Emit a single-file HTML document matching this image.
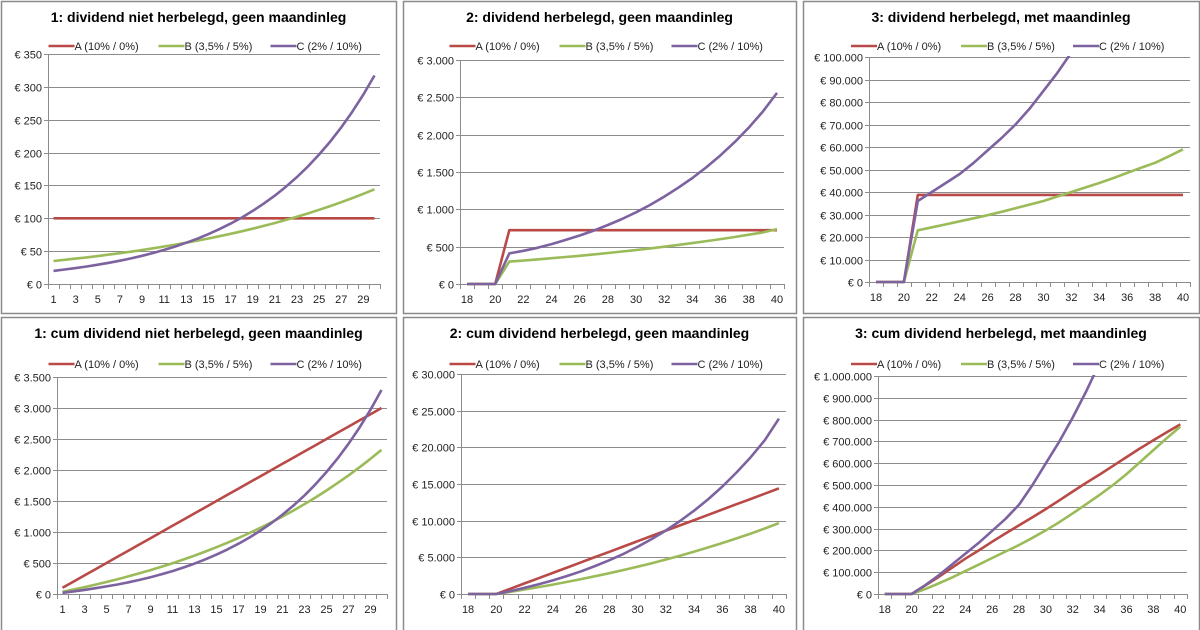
<!DOCTYPE html>
<html><head><meta charset="utf-8">
<style>
body{margin:0;width:1200px;height:630px;background:#fff;overflow:hidden;font-family:"Liberation Sans",sans-serif}
svg{position:absolute;left:0;top:0}
</style></head>
<body>
<svg id="s" width="1200" height="630"></svg>
<script>
const yearsP1 = [1,2,3,4,5,6,7,8,9,10,11,12,13,14,15,16,17,18,19,20,21,22,23,24,25,26,27,28,29,30];
const yearsP2 = [18,19,20,21,22,23,24,25,26,27,28,29,30,31,32,33,34,35,36,37,38,39,40];

const p1A = [100,100,100,100,100,100,100,100,100,100,100,100,100,100,100,100,100,100,100,100,100,100,100,100,100,100,100,100,100,100];
const p1B = [35,36.8,38.6,40.5,42.5,44.7,46.9,49.2,51.7,54.3,57,59.9,62.9,66,69.3,72.8,76.4,80.2,84.2,88.4,92.9,97.5,102.4,107.5,112.9,118.5,124.5,130.7,137.2,144.1];
const p1C = [20,22,24.2,26.6,29.3,32.2,35.4,39,42.9,47.2,51.9,57.1,62.8,69,75.9,83.5,91.9,101.1,111.2,122.3,134.5,148,162.8,179.1,197,216.7,238.4,262.2,288.4,317.3];

const p2A = [0,0,0,720,720,720,720,720,720,720,720,720,720,720,720,720,720,720,720,720,720,720,720];
const p2B = [0,0,0,300,314,329,345,361,378,396,415,435,455,477,500,523,548,574,601,630,660,691,735];
const p2C = [0,0,0,410,445,485,535,590,650,715,790,870,960,1060,1170,1290,1420,1565,1725,1900,2095,2310,2560];

const p3A = [0,0,0,38700,38700,38700,38700,38700,38700,38700,38700,38700,38700,38700,38700,38700,38700,38700,38700,38700,38700,38700,38700];
const p3B = [0,0,0,23000,24300,25600,27000,28300,29700,31200,32800,34400,36000,38000,40000,42000,44000,46200,48500,50800,53000,55900,59000];
const p3C = [0,0,0,36000,40000,44000,48000,53000,58500,64000,70000,77000,85000,93000,102000,112000,123000,135000,148000,163000,179000,197000,216000];

const p4A = [100,200,300,400,500,600,700,800,900,1000,1100,1200,1300,1400,1500,1600,1700,1800,1900,2000,2100,2200,2300,2400,2500,2600,2700,2800,2900,3000];
const p4B = [35,72,110,151,193,238,285,334,386,440,497,557,620,686,755,828,904,984,1068,1157,1250,1347,1450,1557,1670,1788,1913,2044,2181,2325];
const p4C = [20,42,66,93,122,154,189,228,271,318,370,427,490,559,635,719,811,912,1023,1145,1280,1428,1591,1770,1967,2184,2422,2684,2973,3290];

const p5A = [0,0,0,720,1440,2160,2880,3600,4320,5040,5760,6480,7200,7920,8640,9360,10080,10800,11520,12240,12960,13680,14400];
const p5B = [0,0,0,300,614,943,1288,1649,2027,2423,2838,3273,3728,4205,4705,5228,5776,6350,6951,7581,8241,8932,9662];
const p5C = [0,0,0,400,840,1325,1860,2450,3100,3815,4605,5475,6435,7495,8665,9955,11375,12940,14665,16565,18660,20970,23900];

const p6A = [0,0,0,38000,78000,120000,162000,200000,240000,278000,315000,352000,390000,430000,470000,510000,548000,588000,628000,668000,705000,742000,778000];
const p6B = [0,0,0,22000,48000,75000,105000,135000,165000,195000,225000,258000,292000,330000,370000,412000,455000,500000,550000,605000,660000,715000,768000];
const p6C = [0,0,0,40000,85000,135000,185000,235000,290000,345000,410000,500000,600000,700000,810000,930000,1060000,1200000,1360000,1530000,1720000,1930000,2160000];

const ticksP1 = ['€ 0','€ 50','€ 100','€ 150','€ 200','€ 250','€ 300','€ 350'];
const ticksP2 = ['€ 0','€ 500','€ 1.000','€ 1.500','€ 2.000','€ 2.500','€ 3.000'];
const ticksP3 = ['€ 0','€ 10.000','€ 20.000','€ 30.000','€ 40.000','€ 50.000','€ 60.000','€ 70.000','€ 80.000','€ 90.000','€ 100.000'];
const ticksP4 = ['€ 0','€ 500','€ 1.000','€ 1.500','€ 2.000','€ 2.500','€ 3.000','€ 3.500'];
const ticksP5 = ['€ 0','€ 5.000','€ 10.000','€ 15.000','€ 20.000','€ 25.000','€ 30.000'];
const ticksP6 = ['€ 0','€ 100.000','€ 200.000','€ 300.000','€ 400.000','€ 500.000','€ 600.000','€ 700.000','€ 800.000','€ 900.000','€ 1.000.000'];
const legendLabels = ['A (10% / 0%)','B (3,5% / 5%)','C (2% / 10%)'];
const colors = ['#b94a47','#9bbb59','#7d62a0'];

const NS='http://www.w3.org/2000/svg';
const svg=document.getElementById('s');
function mk(tag,attrs,parent,text){const e=document.createElementNS(NS,tag);for(const k in attrs)e.setAttribute(k,attrs[k]);if(text!==undefined)e.textContent=text;(parent||svg).appendChild(e);return e;}

const panels=[
 {id:'p1',box:[1,1,395,312],title:'1: dividend niet herbelegd, geen maandinleg',x0:48,x1:380,yt:54,yb:284,legY:46,cats:yearsP1,max:350,step:50,ticks:ticksP1,series:[p1A,p1B,p1C],labelEvery:'odd'},
 {id:'p2',box:[403,1,393,312],title:'2: dividend herbelegd, geen maandinleg',x0:460,x1:784,yt:60,yb:284,legY:46,cats:yearsP2,max:3000,step:500,ticks:ticksP2,series:[p2A,p2B,p2C],labelEvery:'even'},
 {id:'p3',box:[803,1,396,312],title:'3: dividend herbelegd, met maandinleg',x0:869,x1:1190,yt:57,yb:282,legY:46,cats:yearsP2,max:100000,step:10000,ticks:ticksP3,series:[p3A,p3B,p3C],labelEvery:'even'},
 {id:'p4',box:[1,317,395,320],title:'1: cum dividend niet herbelegd, geen maandinleg',x0:57,x1:387,yt:377,yb:594,legY:364,cats:yearsP1,max:3500,step:500,ticks:ticksP4,series:[p4A,p4B,p4C],labelEvery:'odd'},
 {id:'p5',box:[403,317,393,320],title:'2: cum dividend herbelegd, geen maandinleg',x0:461,x1:786,yt:374,yb:594,legY:364,cats:yearsP2,max:30000,step:5000,ticks:ticksP5,series:[p5A,p5B,p5C],labelEvery:'even'},
 {id:'p6',box:[803,317,396,320],title:'3: cum dividend herbelegd, met maandinleg',x0:878,x1:1187,yt:376,yb:594,legY:364,cats:yearsP2,max:1000000,step:100000,ticks:ticksP6,series:[p6A,p6B,p6C],labelEvery:'even'}
];

panels.forEach((p,pi)=>{
 const g=mk('g',{});
 
 
 const [bx,by,bw,bh]=p.box;
 const r=mk('rect',{x:bx+0.5,y:by+0.5,width:bw,height:bh,fill:'#fff',stroke:'#8a8a8a','stroke-width':1.5},g);
 
 
 const t=mk('text',{x:bx+bw/2,y:by+21,'text-anchor':'middle','font-size':14,'font-weight':'bold',fill:'#000'},g,p.title);
 
 
 const n=p.cats.length, cw=(p.x1-p.x0)/n;
 const xs=i=>p.x0+(i+0.5)*cw;
 const ys=v=>p.yb-(v/p.max)*(p.yb-p.yt);
 for(let k=0;k<p.ticks.length;k++){
  const v=k*p.step, y=Math.round(ys(v))+0.5;
  if(k>0){const gl=mk('line',{x1:p.x0,x2:p.x1,y1:y,y2:y,stroke:'#8c8c8c','stroke-width':1},g);
   
   }
  mk('line',{x1:p.x0-4,x2:p.x0,y1:y,y2:y,stroke:'#8c8c8c'},g);
  const tl=mk('text',{x:p.x0-6,y:y+4,'text-anchor':'end','font-size':11,fill:'#222'},g,p.ticks[k]);
  
  
 }
 mk('line',{x1:p.x0+0.5,x2:p.x0+0.5,y1:p.yt,y2:p.yb,stroke:'#8c8c8c'},g);
 mk('line',{x1:p.x0,x2:p.x1,y1:p.yb+0.5,y2:p.yb+0.5,stroke:'#8c8c8c'},g);
 for(let i=0;i<=n;i++){const x=Math.round(p.x0+i*cw)+0.5;mk('line',{x1:x,x2:x,y1:p.yb,y2:p.yb+5,stroke:'#8c8c8c'},g);}
 p.cats.forEach((c,i)=>{
  if((p.labelEvery==='odd'&&c%2===1)||(p.labelEvery==='even'&&c%2===0)){
   const xl=mk('text',{x:xs(i),y:p.yb+19,'text-anchor':'middle','font-size':11,fill:'#222'},g,String(c));
   
   
  }
 });
 const cid='clip'+pi;
 const cp=mk('clipPath',{id:cid},g);
 mk('rect',{x:p.x0,y:p.yt-1,width:p.x1-p.x0+5,height:p.yb-p.yt+3},cp);
 const names=['series-a','series-b','series-c'];
 p.series.forEach((s,si)=>{
  const d=s.map((v,i)=>(i?'L':'M')+xs(i).toFixed(1)+' '+ys(v).toFixed(1)).join(' ');
  const pl=mk('path',{d:d,fill:'none',stroke:colors[si],'stroke-width':2.6,'stroke-linejoin':'round','clip-path':'url(#'+cid+')'},g);
  
  
 });
 const cx=bx+bw/2, starts=[-150,-40,72];
 legendLabels.forEach((lab,li)=>{
  const lx=cx+starts[li];
  const lg=mk('g',{},g);
  
  
  mk('line',{x1:lx,x2:lx+26,y1:p.legY,y2:p.legY,stroke:colors[li],'stroke-width':2.6},lg);
  mk('text',{x:lx+26,y:p.legY+4,'font-size':11,fill:'#222'},lg,lab);
 });
});
</script>
</body></html>
